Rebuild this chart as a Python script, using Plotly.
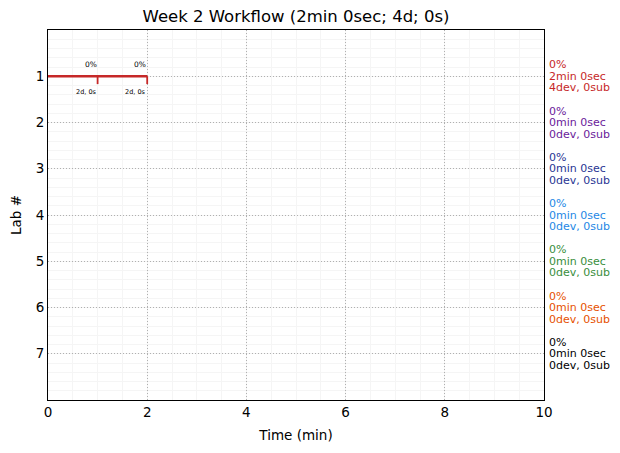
import plotly.graph_objects as go

# ---- data ----
labs = [1, 2, 3, 4, 5, 6, 7]
lab_pct = ["0%", "0%", "0%", "0%", "0%", "0%", "0%"]
lab_time = ["2min 0sec", "0min 0sec", "0min 0sec", "0min 0sec", "0min 0sec", "0min 0sec", "0min 0sec"]
lab_devsub = ["4dev, 0sub", "0dev, 0sub", "0dev, 0sub", "0dev, 0sub", "0dev, 0sub", "0dev, 0sub", "0dev, 0sub"]
lab_colors = ["#c62828", "#6a1b9a", "#283593", "#1e88e5", "#388e3c", "#e65100", "#000000"]

# steps of lab 1 (minutes)
step_lab = 1
step_start = [0, 1]
step_end = [1, 2]
step_pct = ["0%", "0%"]
step_info = ["2d, 0s", "2d, 0s"]
tick_len = 0.17

title = "Week 2 Workflow (2min 0sec; 4d; 0s)"

fig = go.Figure()
font = "DejaVu Sans, Arial, sans-serif"
c = lab_colors[step_lab - 1]

# main line
fig.add_trace(go.Scatter(x=[step_start[0], step_end[-1]], y=[step_lab, step_lab], mode="lines",
                         line=dict(color=c, width=2.5), showlegend=False, hoverinfo="skip"))
for s, e, p, inf in zip(step_start, step_end, step_pct, step_info):
    fig.add_trace(go.Scatter(x=[e, e], y=[step_lab, step_lab + tick_len], mode="lines",
                             line=dict(color=c, width=1.8), showlegend=False, hoverinfo="skip"))
    fig.add_annotation(x=e, y=step_lab, text=p, showarrow=False, xanchor="right", yanchor="middle",
                       yshift=12, xshift=1, font=dict(size=7.5, color="#000000", family=font))
    fig.add_annotation(x=e, y=step_lab, text=inf, showarrow=False, xanchor="right", yanchor="middle",
                       yshift=-16, xshift=1, font=dict(size=6.5, color="#000000", family=font))

for lab, p, t, d, col in zip(labs, lab_pct, lab_time, lab_devsub, lab_colors):
    for txt, ys in ((p, 11.5), (t, 0), (d, -11.5)):
        fig.add_annotation(xref="paper", x=1, y=lab, text=txt, showarrow=False, xanchor="left",
                           yanchor="middle", xshift=3, yshift=ys,
                           font=dict(size=11, color=col, family=font))

fig.update_layout(
    width=620, height=453,
    margin=dict(l=48, r=76, t=30, b=53, autoexpand=False),
    paper_bgcolor="white", plot_bgcolor="white",
    title=dict(text=title, x=0.5, xref="paper", xanchor="center", y=1 - 16 / 453, yanchor="middle",
               font=dict(size=16.5, color="black", family=font)),
    font=dict(family=font, color="black"),
)
fig.update_xaxes(range=[0, 10], tickvals=[0, 2, 4, 6, 8, 10], ticks="", showline=True, linecolor="black",
                 linewidth=1, mirror=True, showgrid=True, gridcolor="#b0b0b0", griddash="1px,2px", gridwidth=1,
                 minor=dict(dtick=0.5, showgrid=True, gridcolor="#f5f5f5", gridwidth=1, griddash="solid"),
                 zeroline=False, automargin=False,
                 title=dict(text="Time (min)", font=dict(size=13.5), standoff=11),
                 tickfont=dict(size=13.5))
fig.update_yaxes(range=[8, 0], tickvals=labs, ticks="", showline=True, linecolor="black", linewidth=1,
                 mirror=True, showgrid=True, gridcolor="#b0b0b0", griddash="1px,2px", gridwidth=1,
                 minor=dict(dtick=0.2, showgrid=True, gridcolor="#f5f5f5", gridwidth=1, griddash="solid"),
                 zeroline=False, automargin=False,
                 title=dict(text="Lab #", font=dict(size=13.5), standoff=10),
                 tickfont=dict(size=13.5))

fig.write_html("out.html", config={"displayModeBar": False},
               post_script="document.body.style.margin='0px';")
